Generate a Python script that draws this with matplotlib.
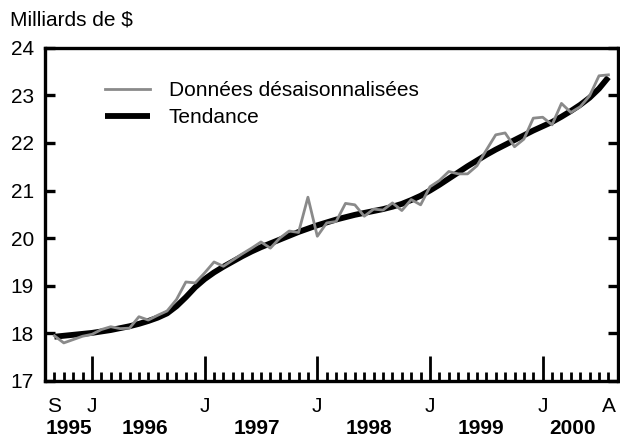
import matplotlib
matplotlib.use("Agg")
import matplotlib.pyplot as plt
from matplotlib.ticker import FixedLocator, NullFormatter

plt.rcParams['font.family'] = ['Liberation Sans', 'DejaVu Sans']

# Monthly data, Sep 1995 .. Aug 2000 (index 0 = Sep 1995)
raw = [17.95, 17.80, 17.87, 17.94, 17.98, 18.08, 18.14, 18.10, 18.11, 18.35,
       18.28, 18.38, 18.47, 18.71, 19.08, 19.06, 19.27, 19.50, 19.41, 19.54,
       19.67, 19.79, 19.92, 19.79, 20.00, 20.15, 20.12, 20.86, 20.04, 20.32,
       20.35, 20.73, 20.70, 20.46, 20.61, 20.59, 20.74, 20.58, 20.81, 20.70,
       21.08, 21.21, 21.40, 21.35, 21.35, 21.52, 21.85, 22.17, 22.21, 21.92,
       22.08, 22.52, 22.54, 22.38, 22.83, 22.64, 22.76, 22.99, 23.41, 23.43]
trend = [17.93, 17.95, 17.97, 17.99, 18.01, 18.04, 18.07, 18.11, 18.15, 18.20,
         18.26, 18.33, 18.42, 18.57, 18.76, 18.97, 19.14, 19.28, 19.40, 19.51,
         19.62, 19.72, 19.81, 19.89, 19.97, 20.05, 20.13, 20.20, 20.27, 20.33,
         20.39, 20.44, 20.49, 20.53, 20.57, 20.61, 20.66, 20.72, 20.80, 20.89,
         21.00, 21.12, 21.25, 21.38, 21.51, 21.63, 21.75, 21.86, 21.96, 22.06,
         22.16, 22.26, 22.35, 22.44, 22.55, 22.67, 22.80, 22.95, 23.14, 23.38]
months = list(range(len(raw)))

month_labels = ['S', 'J', 'J', 'J', 'J', 'J', 'A']
month_label_pos = [0, 4, 16, 28, 40, 52, 59]
year_labels = ['1995', '1996', '1997', '1998', '1999', '2000']
year_centers = [1.6, 9.6, 21.6, 33.5, 45.4, 55.2]
y_ticks = [17, 18, 19, 20, 21, 22, 23, 24]
major_x = [4, 16, 28, 40, 52]

FS = 15
fig = plt.figure(figsize=(6.2, 4.38), dpi=100)
ax = fig.add_axes([45/620, 1-381/438, (617.8-45)/620, (381-47.7)/438])

ax.plot(months, trend, color='black', lw=4.2, solid_capstyle='butt', label='Tendance', zorder=2)
ax.plot(months, raw, color='#8a8a8a', lw=2.0, label='Données désaisonnalisées', zorder=3)

ax.set_xlim(-1, 60)
ax.set_ylim(17, 24)

for s in ax.spines.values():
    s.set_linewidth(2.4)

ax.set_yticks(y_ticks)
ax.tick_params(axis='y', which='major', direction='in', length=7.5, width=2.4,
               left=True, right=True, labelsize=FS, pad=8)
ax.xaxis.set_major_locator(FixedLocator(major_x))
ax.xaxis.set_minor_locator(FixedLocator(months))
ax.xaxis.set_major_formatter(NullFormatter())
ax.tick_params(axis='x', which='major', direction='in', length=18, width=2.0)
ax.tick_params(axis='x', which='minor', direction='in', length=6.5, width=2.0)

tr = ax.get_xaxis_transform()
for lab, p in zip(month_labels, month_label_pos):
    ax.text(p, -25.5/333.3, lab, transform=tr, ha='center', va='center', fontsize=FS, clip_on=False)
for lab, p in zip(year_labels, year_centers):
    ax.text(p, -48/333.3, lab, transform=tr, ha='center', va='center', fontsize=FS,
            fontweight='bold', clip_on=False)

fig.text(10/620, 1-20/438, 'Milliards de $', ha='left', va='center', fontsize=FS)

h, l = ax.get_legend_handles_labels()
leg = ax.legend(h[::-1], l[::-1], loc='upper left', bbox_to_anchor=(105/620, 1-81/438),
                bbox_transform=fig.transFigure, frameon=False, fontsize=FS,
                handlelength=2.15, handletextpad=0.9, labelspacing=0.4, borderpad=0,
                borderaxespad=0)

fig.savefig('out.png', dpi=100)
